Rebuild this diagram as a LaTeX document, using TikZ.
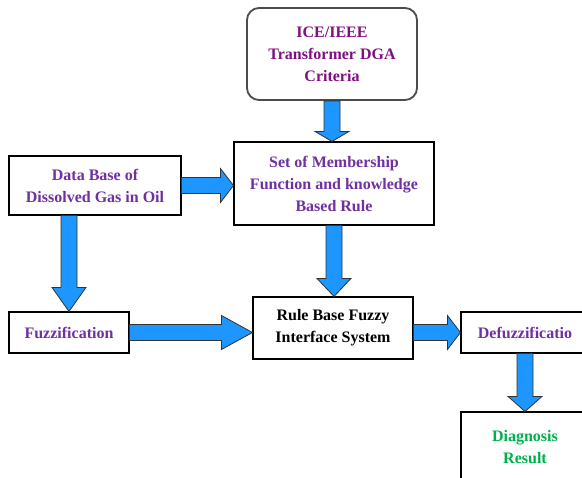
\documentclass[tikz,border=0pt]{standalone}
\usepackage{fontspec}
\setmainfont{Liberation Serif}
\usepackage{tikz}
\usetikzlibrary{positioning,calc}
\usepackage{xcolor}

\definecolor{arrowblue}{RGB}{30,150,255}
\definecolor{txtpurple}{RGB}{112,48,160}
\definecolor{icepurple}{RGB}{128,16,128}
\definecolor{txtgreen}{RGB}{0,176,80}

% block arrow from #2 to #3, #1 = head length
\newcommand{\fatarrow}[3][14pt]{%
  \draw[fatarrow] let \p1=(#2), \p2=(#3), \n1={atan2(\y2-\y1,\x2-\x1)} in
    ($(\p1)+(\n1+90:8pt)$) -- ($(\p2)+(\n1+180:#1)+(\n1+90:8pt)$)
    -- ($(\p2)+(\n1+180:#1)+(\n1+90:17pt)$) -- (\p2)
    -- ($(\p2)+(\n1+180:#1)+(\n1-90:17pt)$) -- ($(\p2)+(\n1+180:#1)+(\n1-90:8pt)$)
    -- ($(\p1)+(\n1-90:8pt)$) -- cycle;
}

\begin{document}
\begin{tikzpicture}[
    x=1pt, y=-1pt,
    box/.style={rectangle, draw=black, line width=1.1pt, fill=white, inner sep=0pt, align=center,
                font=\fontsize{16}{22}\selectfont\bfseries},
    topbox/.style={box, draw=black!70, line width=1.8pt, rounded corners=12pt},
    fatarrow/.style={fill=arrowblue, draw=black!80, line width=0.8pt, line join=miter}
]
\useasboundingbox[fill=white] (0,0) rectangle (582,478);

\node[topbox, minimum width=170pt, minimum height=92pt, text=icepurple] (ice) at (332, 54)
    {ICE/IEEE\\Transformer DGA\\Criteria};
\node[box, minimum width=200pt, minimum height=83pt, text=txtpurple] (set) at (334, 183.5)
    {Set of Membership\\Function and knowledge\\Based Rule};
\node[box, minimum width=172pt, minimum height=59pt, text=txtpurple] (db) at (95, 185.5)
    {Data Base of\\Dissolved Gas in Oil};
\node[box, minimum width=120pt, minimum height=41pt, text=txtpurple] (fuzz) at (69, 332.5)
    {Fuzzification};
\node[box, minimum width=160pt, minimum height=62pt] (rule) at (333, 328)
    {Rule Base Fuzzy\\Interface System};
\node[box, minimum width=128pt, minimum height=41pt, text=txtpurple] (defuzz) at (525, 332.5)
    {Defuzzificatio};
\node[box, minimum width=128pt, minimum height=70pt, text=txtgreen] (diag) at (525, 447)
    {Diagnosis\\Result};

\fatarrow[10pt]{ice.south}{ice.south |- set.north}
\fatarrow[13pt]{db.east}{db.east -| set.west}
\fatarrow[24pt]{db.south -| fuzz.north}{fuzz.north}
\fatarrow[31pt]{fuzz.east}{fuzz.east -| rule.west}
\fatarrow[18pt]{set.south}{set.south |- rule.north}
\fatarrow[13pt]{rule.east |- defuzz.west}{defuzz.west}
\fatarrow[15pt]{defuzz.south}{diag.north}
\end{tikzpicture}
\end{document}
